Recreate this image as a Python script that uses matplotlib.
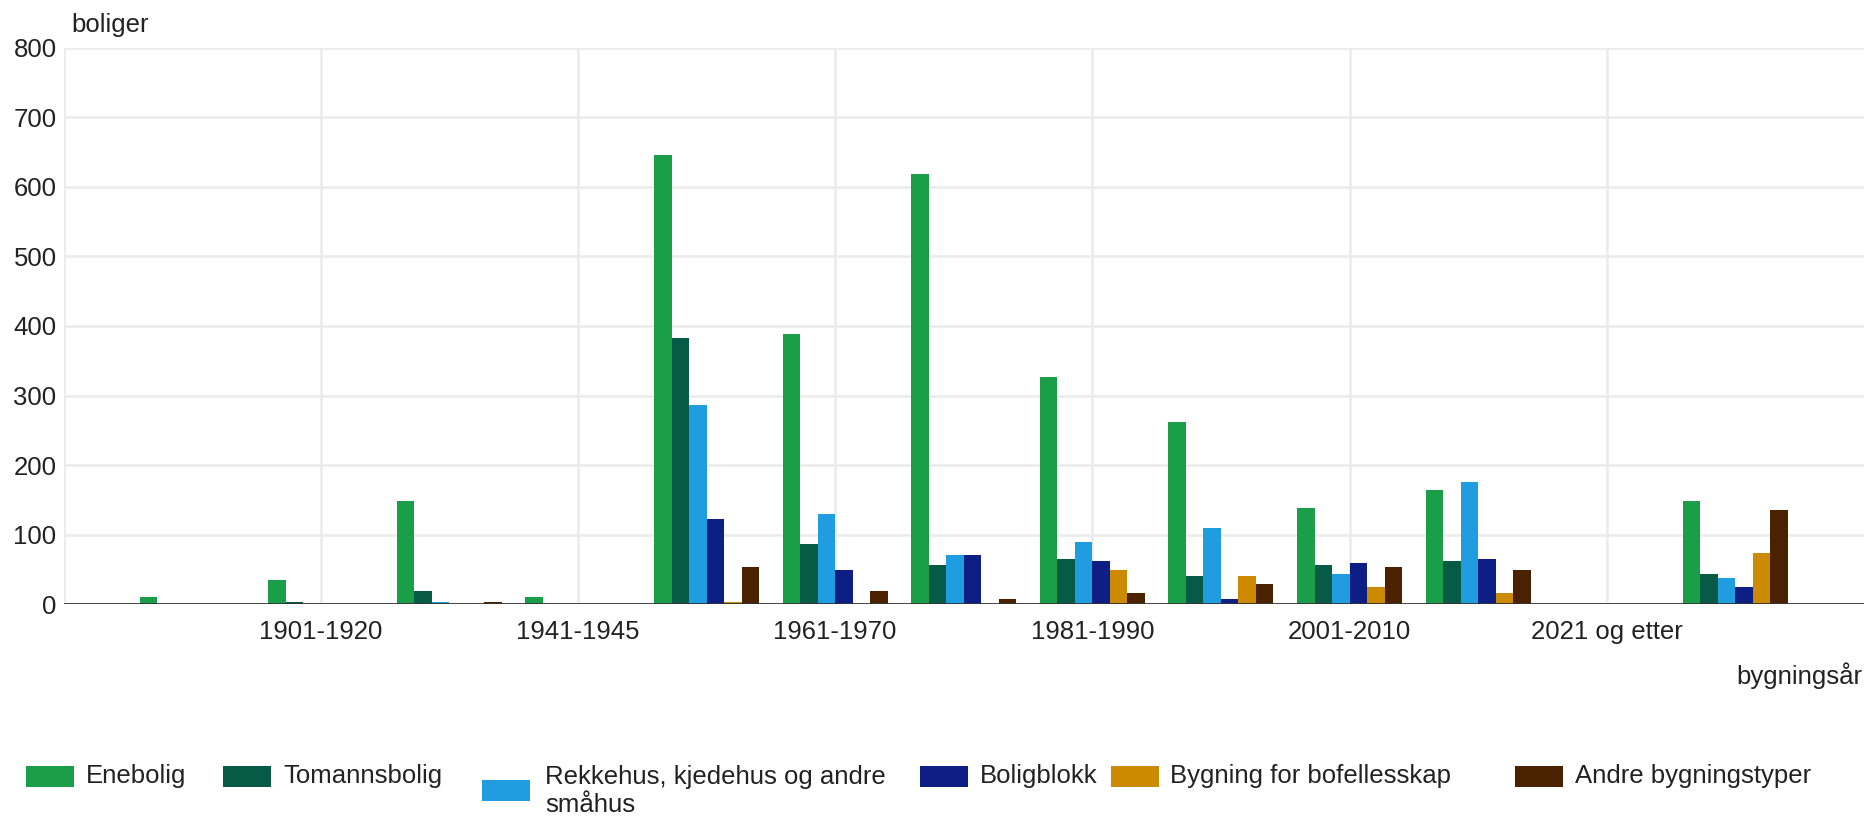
import matplotlib
matplotlib.use("Agg")
import matplotlib.pyplot as plt
import numpy as np
from matplotlib.patches import Rectangle

plt.rcParams['font.family'] = ['Liberation Sans', 'DejaVu Sans']

categories = ["Før 1900", "1901-1920", "1921-1940", "1941-1945", "1946-1960",
              "1961-1970", "1971-1980", "1981-1990", "1991-2000", "2001-2010",
              "2011-2020", "2021 og etter", "Uoppgitt byggeår"]
series_names = ["Enebolig", "Tomannsbolig", "Rekkehus, kjedehus og andre\nsmåhus",
                "Boligblokk", "Bygning for bofellesskap", "Andre bygningstyper"]
enebolig = [10, 35, 148, 10, 645, 388, 618, 327, 262, 139, 164, 0, 148]
tomannsbolig = [0, 3, 19, 0, 382, 86, 56, 65, 41, 56, 62, 0, 44]
rekkehus = [0, 0, 3, 0, 286, 130, 71, 90, 109, 44, 176, 0, 38]
boligblokk = [0, 0, 0, 0, 123, 50, 71, 62, 7, 59, 65, 0, 25]
bofellesskap = [0, 0, 0, 0, 3, 0, 0, 50, 41, 25, 16, 0, 74]
andre = [0, 0, 3, 0, 53, 19, 7, 16, 29, 53, 50, 0, 136]
yticks = [0, 100, 200, 300, 400, 500, 600, 700, 800]

colors = ["#1a9e48", "#075a45", "#1f9de0", "#0d1f85", "#cc8a00", "#4a2200"]
all_series = [enebolig, tomannsbolig, rekkehus, boligblokk, bofellesskap, andre]

FS = 18.5
fig = plt.figure(figsize=(18.67, 8.16), dpi=100)
ax = fig.add_axes([63.5 / 1867, 1 - 604.3 / 816, (1864 - 63.5) / 1867, (604.3 - 47.5) / 816])

x = np.arange(len(categories))
w = 0.136
for i, (vals, c) in enumerate(zip(all_series, colors)):
    ax.bar(x + (i - 2.5) * w, vals, width=w, color=c, zorder=3, linewidth=0)

ax.set_xlim(-1, 13)
ax.set_ylim(0, 800)
ax.set_yticks(yticks)
ax.set_yticklabels([str(v) for v in yticks])
label_idx = list(range(1, len(categories), 2))
ax.set_xticks(label_idx)
ax.set_xticklabels([categories[i] for i in label_idx])

for v in yticks[1:]:
    ax.axhline(v, color="#ebebeb", lw=1.8, zorder=1)
for i in [-1] + label_idx:
    ax.axvline(i, color="#ebebeb", lw=1.8, zorder=1)
ax.axhline(0, color="#333333", lw=2, zorder=4)

for s in ax.spines.values():
    s.set_visible(False)
ax.tick_params(axis="both", length=0, labelsize=FS, colors="#222222")
ax.tick_params(axis="y", pad=5)
ax.tick_params(axis="x", pad=11)

fig.text(71 / 1867, 1 - 25 / 816, "boliger", fontsize=FS, color="#222222",
         ha="left", va="center")
fig.text(1862 / 1867, 1 - 676 / 816, "bygningsår", fontsize=FS, color="#222222",
         ha="right", va="center")

# legend
sq_x = [26, 223, 482, 920, 1111, 1515]
txt_x = [86, 283, 545, 980, 1170, 1575]
sq_y = [776.5, 776.5, 790, 776.5, 776.5, 776.5]
txt_y = [776.5, 776.5, 791, 776.5, 776.5, 776.5]
for i in range(6):
    fig.patches.append(Rectangle((sq_x[i] / 1867, 1 - (sq_y[i] + 10.5) / 816),
                                 48 / 1867, 21 / 816, transform=fig.transFigure,
                                 facecolor=colors[i], edgecolor="none"))
    fig.text(txt_x[i] / 1867, 1 - txt_y[i] / 816, series_names[i], fontsize=FS,
             color="#222222", ha="left", va="center", linespacing=1.25)

fig.savefig("out.png", dpi=100, facecolor="white")
